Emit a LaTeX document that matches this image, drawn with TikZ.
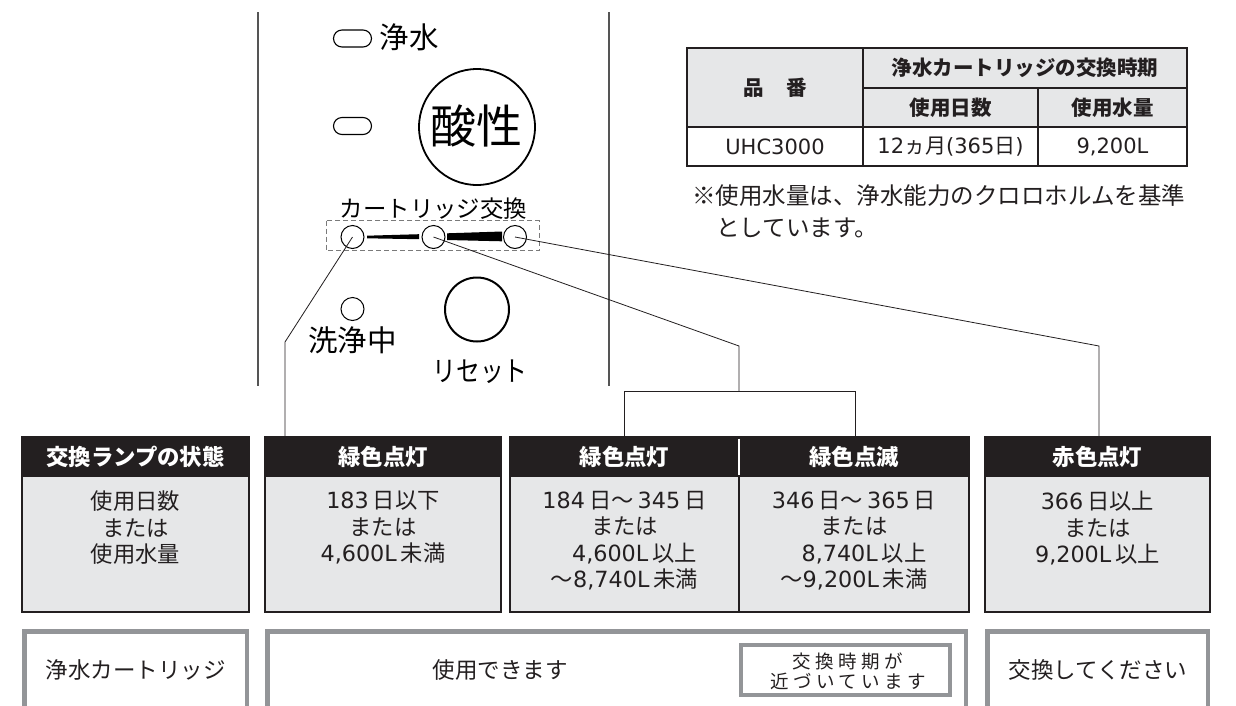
\documentclass[tikz,border=0pt]{standalone}
\usepackage{fontspec}
\newfontfamily\jp{Noto Sans CJK JP}
\newfontfamily\lat{DejaVu Sans}
\definecolor{ink}{HTML}{231F20}
\definecolor{bodygray}{HTML}{E6E7E8}
\definecolor{framegray}{HTML}{939598}
\definecolor{panelline}{HTML}{555555}
\definecolor{dashgray}{HTML}{7A7A7A}
\newcommand{\jfs}[2]{\fontsize{#1}{#2}\selectfont}
\newcommand{\ltn}[1]{{\lat #1}}
\newcommand{\gp}{\kern4pt}
\tikzset{
  hdrbox/.style={fill=ink, draw=ink, line width=1.5pt, inner sep=0pt, text=white,
    font=\jp\bfseries\jfs{22.4}{26}},
  bodybox/.style={fill=bodygray, draw=ink, line width=1.5pt, inner sep=0pt},
  bodytxt/.style={align=center, inner sep=0pt, text=ink, font=\jp\jfs{22.3}{26.5}},
  frame2/.style={draw=framegray, line width=4.5pt, inner sep=0pt},
  frametxt/.style={inner sep=0pt, text=ink, font=\jp\jfs{22.5}{26}},
  tbl/.style={draw=ink, line width=1.3pt},
  tblhead/.style={inner sep=0pt, text=ink, font=\jp\bfseries\jfs{20.5}{24}},
  tbltxt/.style={inner sep=0pt, text=ink, font=\jp\jfs{21}{24}},
  notetxt/.style={inner sep=0pt, text=ink, font=\jp\jfs{23.5}{28}},
  paneltxt/.style={inner sep=0pt, text=black},
  lampc/.style={circle, draw=black, line width=1pt, minimum size=23pt, inner sep=0pt},
  pill/.style={rounded corners=8.5pt, draw=black, line width=1.1pt, minimum width=38pt,
    minimum height=17pt, inner sep=0pt},
  conn/.style={draw=ink, line width=0.8pt},
  pline/.style={draw=panelline, line width=1.3pt},
}
\begin{document}
\begin{tikzpicture}[x=1pt,y=-1pt]
\useasboundingbox[fill=white] (0,0) rectangle (1236,705);
\clip (0,0) rectangle (1236,705);

% ---------------- control panel ----------------
\draw[pline] (258,12) -- (258,386);
\draw[pline] (609,12) -- (609,386);

\node[pill] (p1) at (352.5,38.5) {};
\node[paneltxt, font=\jp\jfs{29.5}{32}] (tJosui) at (409,37.5) {浄水};
\node[pill] (p2) at (352.5,126) {};
\node[circle, draw=black, line width=1.8pt, minimum size=116pt, inner sep=0pt] (acid) at (477,127) {};
\node[paneltxt, font=\jp\jfs{46}{50}] (tAcid) at (476.5,126) {酸性};

\node[paneltxt, font=\jp\jfs{23.4}{26}] (tCart) at (433.5,208.5) {カートリッジ交換};
\draw[dashgray, line width=1pt, dash pattern=on 5pt off 3pt] (326,220.5) rectangle (539,250.5);
\node[lampc] (l1) at (352.5,237) {};
\node[lampc] (l2) at (433.5,237) {};
\node[lampc] (l3) at (515,237) {};
\fill[black] (367,235.7) -- (419,234.2) -- (419,239.2) -- (367,238.3) -- cycle;
\fill[black] (447,233.3) -- (502,231.5) -- (502,241.3) -- (447,240) -- cycle;

\node[lampc] (l4) at (352.5,309) {};
\node[paneltxt, font=\jp\jfs{29.5}{32}] (tWash) at (352.5,340) {洗浄中};
\node[circle, draw=black, line width=2pt, minimum size=64pt, inner sep=0pt] (reset) at (477,309.5) {};
\node[paneltxt, font=\jp\jfs{28}{30}, xscale=0.85] (tReset) at (480,372) {リセット};

% ---------------- table ----------------
\fill[bodygray] (687,48) rectangle (1187,127);
\draw[tbl] (687,48) rectangle (1187,166);
\draw[tbl] (687,127) -- (1187,127);
\draw[tbl] (863,88) -- (1187,88);
\draw[tbl] (863,48) -- (863,166);
\draw[tbl] (1038,88) -- (1038,166);
\node[tblhead] (thNo) at (775,88) {品\hspace{22pt}番};
\node[tblhead] (thTime) at (1025,68) {浄水カートリッジの交換時期};
\node[tblhead] (thDays) at (950.5,107.5) {使用日数};
\node[tblhead] (thVol) at (1112.5,107.5) {使用水量};
\node[tbltxt] (tdNo) at (775,146.5) {\ltn{UHC3000}};
\node[tbltxt] (tdDays) at (950.5,146.5) {\ltn{12}ヵ月\ltn{(365}日\ltn{)}};
\node[tbltxt] (tdVol) at (1112.5,146.5) {\ltn{9,200L}};
\node[notetxt, anchor=west] (note1) at (692,196) {※使用水量は、浄水能力のクロロホルムを基準};
\node[notetxt, anchor=west] (note2) at (716,228) {としています。};

% ---------------- status boxes ----------------
\node[bodybox, minimum width=227pt, minimum height=136pt] (bA) at (135.5,544) {};
\node[hdrbox, minimum width=227pt, minimum height=39pt] (hA) at (135.5,456.5) {交換ランプの状態};
\node[bodybox, minimum width=236pt, minimum height=136pt] (bB) at (383,544) {};
\node[hdrbox, minimum width=236pt, minimum height=39pt] (hB) at (383,456.5) {緑色点灯};
\node[bodybox, minimum width=229pt, minimum height=136pt] (bC1) at (624.5,544) {};
\node[hdrbox, minimum width=229pt, minimum height=39pt] (hC1) at (624.5,456.5) {緑色点灯};
\node[bodybox, minimum width=230pt, minimum height=136pt] (bC2) at (854,544) {};
\node[hdrbox, minimum width=230pt, minimum height=39pt] (hC2) at (854,456.5) {緑色点滅};
\draw[white, line width=1.5pt] (739,438.5) -- (739,475);
\node[bodybox, minimum width=225pt, minimum height=136pt] (bD) at (1097.5,544) {};
\node[hdrbox, minimum width=225pt, minimum height=39pt] (hD) at (1097.5,456.5) {赤色点灯};

\node[bodytxt, anchor=north] (tA) at (135.5,491) {使用日数\\または\\使用水量};
\node[bodytxt, anchor=north] (tB) at (383,491) {\ltn{183}\gp 日以下\\または\\\ltn{4,600L}\gp 未満};
\node[bodytxt, anchor=north] (tC1) at (624.5,491) {\ltn{184}\gp 日～\gp\ltn{345}\gp 日\\または\\\hspace*{20pt}\ltn{4,600L}\gp 以上\\～\ltn{8,740L}\gp 未満};
\node[bodytxt, anchor=north] (tC2) at (854,491) {\ltn{346}\gp 日～\gp\ltn{365}\gp 日\\または\\\hspace*{20pt}\ltn{8,740L}\gp 以上\\～\ltn{9,200L}\gp 未満};
\node[bodytxt, anchor=north] (tD) at (1097.5,491) {\ltn{366}\gp 日以上\\または\\\ltn{9,200L}\gp 以上};

% ---------------- connectors ----------------
\coordinate (k1) at (285,342);
\draw[conn] (l1.center) -- (k1) -- (k1 |- hB.north);
\coordinate (k2) at (739,346);
\coordinate (k2b) at (739,391);
\coordinate (b1) at (624,391);
\coordinate (b2) at (855,391);
\draw[conn] (l2.center) -- (k2) -- (k2b);
\draw[conn] (b1 |- hC1.north) -- (b1) -- (b2) -- (b2 |- hC2.north);
\coordinate (k3) at (1099,346);
\draw[conn] (l3.center) -- (k3) -- (k3 |- hD.north);

% ---------------- result boxes ----------------
\node[frame2, minimum width=222.5pt, minimum height=129pt] (fE) at (135.5,695.75) {};
\node[frametxt] (tE) at (135.5,670) {浄水カートリッジ};
\node[frame2, minimum width=698.5pt, minimum height=129pt] (fF) at (616.5,695.75) {};
\node[frametxt] (tF) at (500,670) {使用できます};
\node[frame2, line width=4pt, minimum width=209pt, minimum height=50pt] (fIn) at (845.5,670) {};
\node[inner sep=0pt, text=ink, align=center, font=\jp\jfs{18.5}{20}\addfontfeature{LetterSpace=24}] (tIn) at (848,671) {交換時期が\\近づいています};
\node[frame2, minimum width=220.5pt, minimum height=129pt] (fG) at (1097.5,695.75) {};
\node[frametxt] (tG) at (1098,670) {交換してください};
\end{tikzpicture}
\end{document}
